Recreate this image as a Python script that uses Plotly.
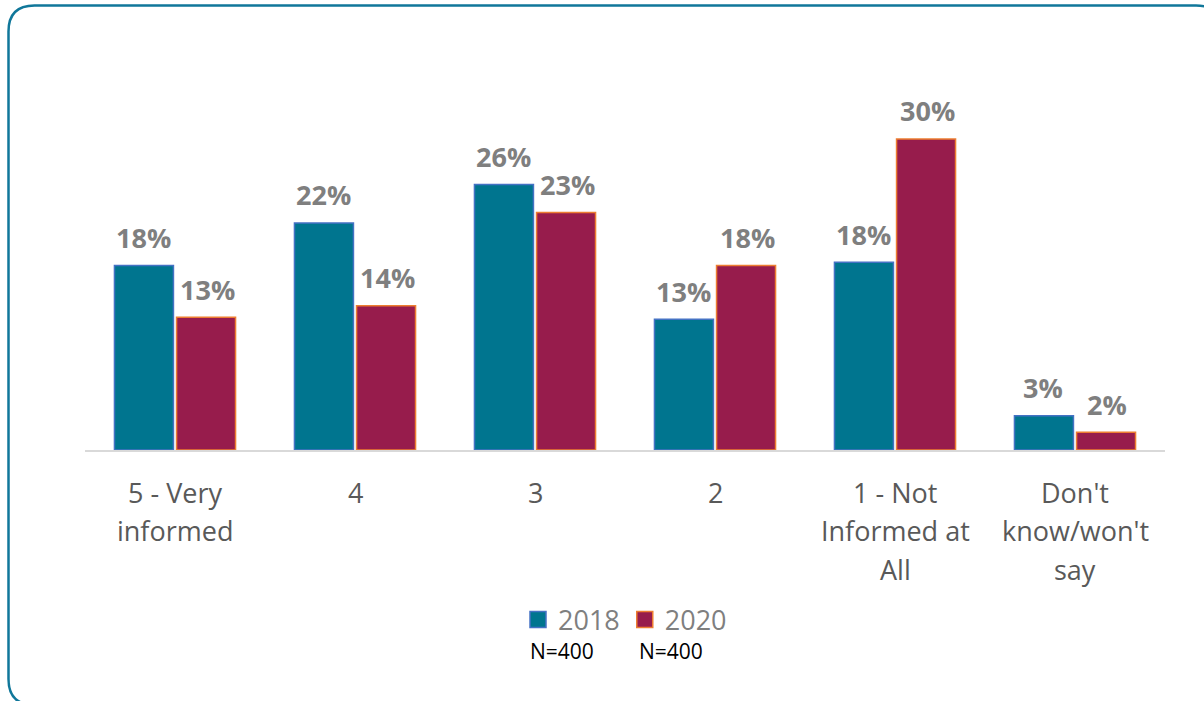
import plotly.graph_objects as go

# --- Données ---
categories = ["5 - Very<br>informed", "4", "3", "2",
              "1 - Not<br>Informed at<br>All", "Don't<br>know/won't<br>say"]
values_2018 = [17.8, 21.9, 25.6, 12.6, 18.1, 3.3]
values_2020 = [12.8, 13.9, 22.9, 17.8, 30.0, 1.7]
series_names = ["2018", "2020"]
sample_sizes = ["N=400", "N=400"]

TEAL = "#00758f"
PLUM = "#971c4c"
LABEL_GREY = "#7f7f7f"
AXIS_GREY = "#595959"
FONT = "Open Sans"

# Géométrie de la zone de tracé (pixels)
W, H = 1204, 701
M_L, M_R, M_T, M_B = 85, 39, 60, 251
PW, PH = W - M_L - M_R, H - M_T - M_B


def px_x(p):
    return (p - M_L) / PW


def px_y(p):
    return (M_T + PH - p) / PH


fig = go.Figure()
styles = [(TEAL, "#4472c4"), (PLUM, "#ed7d31")]
for name, vals, (fill, edge) in zip(series_names, (values_2018, values_2020), styles):
    fig.add_trace(go.Bar(x=list(range(len(categories))), y=vals, name=name,
                         showlegend=False,
                         marker=dict(color=fill, line=dict(color=edge, width=1.5))))
# Entrées de légende (carrés plus grands que ceux des barres)
for name, (fill, edge) in zip(series_names, styles):
    fig.add_trace(go.Scatter(x=[None], y=[None], mode="markers", name=name,
                             marker=dict(symbol="square", size=18, color=fill,
                                         line=dict(color=edge, width=1.5))))

# Étiquettes de données
for vals, shift in ((values_2018, -32), (values_2020, 32)):
    for i, v in enumerate(vals):
        fig.add_annotation(x=i, y=v, xshift=shift, yshift=28, yanchor="middle",
                           text=f"<b>{round(v):.0f}%</b>", showarrow=False,
                           font=dict(size=27, color=LABEL_GREY, family=FONT))

# Libellés des catégories (une annotation par ligne pour l'interligne)
for i, cat in enumerate(categories):
    for k, line in enumerate(cat.split("<br>")):
        fig.add_annotation(x=i, yref="paper", y=px_y(492 + 38.5 * k), yanchor="middle",
                           text=line, showarrow=False,
                           font=dict(size=27, color=AXIS_GREY, family=FONT))

for i, n in enumerate(sample_sizes):
    fig.add_annotation(xref="paper", yref="paper", x=px_x(562 + i * 109),
                       y=px_y(651), yanchor="middle", text=n, showarrow=False,
                       font=dict(size=21, color="black", family=FONT))

# Cadre arrondi
l, r, t, b, rad = 8.5, 1222, 5.5, 705, 26
path = (f"M {px_x(l + rad)},{px_y(t)} L {px_x(r - rad)},{px_y(t)} "
        f"Q {px_x(r)},{px_y(t)} {px_x(r)},{px_y(t + rad)} "
        f"L {px_x(r)},{px_y(b - rad)} Q {px_x(r)},{px_y(b)} {px_x(r - rad)},{px_y(b)} "
        f"L {px_x(l + rad)},{px_y(b)} Q {px_x(l)},{px_y(b)} {px_x(l)},{px_y(b - rad)} "
        f"L {px_x(l)},{px_y(t + rad)} Q {px_x(l)},{px_y(t)} {px_x(l + rad)},{px_y(t)} Z")
fig.add_shape(type="path", path=path, xref="paper", yref="paper",
              line=dict(color="#10779a", width=2.5), layer="below")

fig.update_layout(
    width=W, height=H,
    margin=dict(l=M_L, r=M_R, t=M_T, b=M_B),
    plot_bgcolor="white", paper_bgcolor="white",
    barmode="group", bargap=0.31, bargroupgap=0.05,
    font=dict(family=FONT, color=AXIS_GREY),
    showlegend=True,
    legend=dict(orientation="h", x=0.5, xanchor="center", y=px_y(620), yanchor="middle",
                font=dict(size=27, color=LABEL_GREY, family=FONT),
                itemwidth=30, tracegroupgap=0, traceorder="normal"),
    xaxis=dict(showline=True, linecolor="#d9d9d9", linewidth=2, ticks="",
               showticklabels=False, showgrid=False, range=[-0.5, 5.5]),
    yaxis=dict(range=[0, PH / 10.37], visible=False, showgrid=False, zeroline=False),
)

fig.write_html("out.html", config={"displayModeBar": False},
               post_script="document.body.style.margin='0';")
